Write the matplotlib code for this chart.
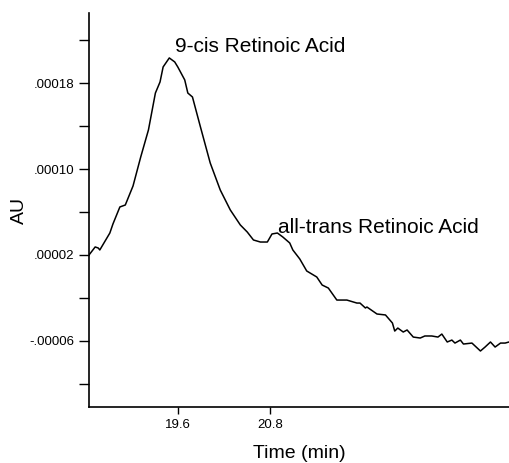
import matplotlib
matplotlib.use("Agg")
import matplotlib.pyplot as plt

plt.rcParams['font.family'] = ['Liberation Sans', 'DejaVu Sans']

# chromatogram trace (time in min, absorbance in 1e-5 AU)
time = [18.45, 18.53, 18.57, 18.59, 18.72, 18.76, 18.85, 18.92, 19.02, 19.12,
        19.22, 19.31, 19.37, 19.41, 19.49, 19.56, 19.60, 19.69, 19.73, 19.79,
        19.89, 20.02, 20.15, 20.28, 20.41, 20.50, 20.58, 20.67, 20.76, 20.82,
        20.89, 20.96, 21.05, 21.09, 21.18, 21.27, 21.40, 21.47, 21.55, 21.66,
        21.79, 21.92, 21.96, 22.03, 22.05, 22.18, 22.29, 22.38, 22.41, 22.45,
        22.52, 22.57, 22.65, 22.74, 22.80, 22.89, 22.97, 23.02, 23.09, 23.15,
        23.19, 23.26, 23.30, 23.41, 23.52, 23.58, 23.65, 23.71, 23.78, 23.84,
        23.89]
au = [2.00, 2.75, 2.65, 2.47, 4.05, 4.89, 6.48, 6.66, 8.43, 11.14,
      13.66, 17.10, 18.13, 19.53, 20.37, 20.00, 19.53, 18.32, 17.10, 16.73,
      14.03, 10.58, 8.06, 6.20, 4.80, 4.14, 3.40, 3.21, 3.21, 3.96,
      4.05, 3.68, 3.12, 2.47, 1.63, 0.51, -0.05, -0.80, -1.08, -2.20,
      -2.20, -2.48, -2.48, -2.94, -2.85, -3.50, -3.59, -4.34, -5.09, -4.81,
      -5.18, -4.99, -5.65, -5.74, -5.55, -5.55, -5.65, -5.37, -6.11, -5.93,
      -6.21, -5.93, -6.30, -6.21, -6.95, -6.58, -6.11, -6.58, -6.21, -6.21,
      -6.11]
au = [v * 1e-5 for v in au]

yticks = [0.00018, 0.00010, 0.00002, -0.00006]
ytick_labels = ['.00018', '.00010', '.00002', '-.00006']
yminor = [0.00022, 0.00014, 0.00006, -0.00002, -0.00010]
xticks = [19.6, 20.8]
xtick_labels = ['19.6', '20.8']

fig = plt.figure(figsize=(5.09, 4.63), dpi=100)
ax = fig.add_axes([89 / 509, 56 / 463, 420 / 509, 394 / 463])

ax.plot(time, au, color='black', lw=1.1)

ax.set_xlim(18.45, 23.89)
ax.set_ylim(-0.0001217, 0.0002456)

ax.set_yticks(yticks)
ax.set_yticklabels(ytick_labels)
ax.set_yticks(yminor, minor=True)
ax.set_xticks(xticks)
ax.set_xticklabels(xtick_labels)

ax.tick_params(axis='y', which='both', direction='out', length=7, width=1, labelsize=9.5)
ax.tick_params(axis='x', which='both', direction='out', length=5, width=1, labelsize=9.5)

for s in ['top', 'right']:
    ax.spines[s].set_visible(False)
for s in ['left', 'bottom']:
    ax.spines[s].set_linewidth(1.2)

ax.set_ylabel('AU', fontsize=14, labelpad=1)
ax.set_xlabel('Time (min)', fontsize=14, labelpad=10)

ax.text(19.565, 0.0002093, '9-cis Retinoic Acid', fontsize=15, va='baseline', ha='left')
ax.text(20.90, 0.0000405, 'all-trans Retinoic Acid', fontsize=15, va='baseline', ha='left')

fig.savefig('out.png', dpi=100)
